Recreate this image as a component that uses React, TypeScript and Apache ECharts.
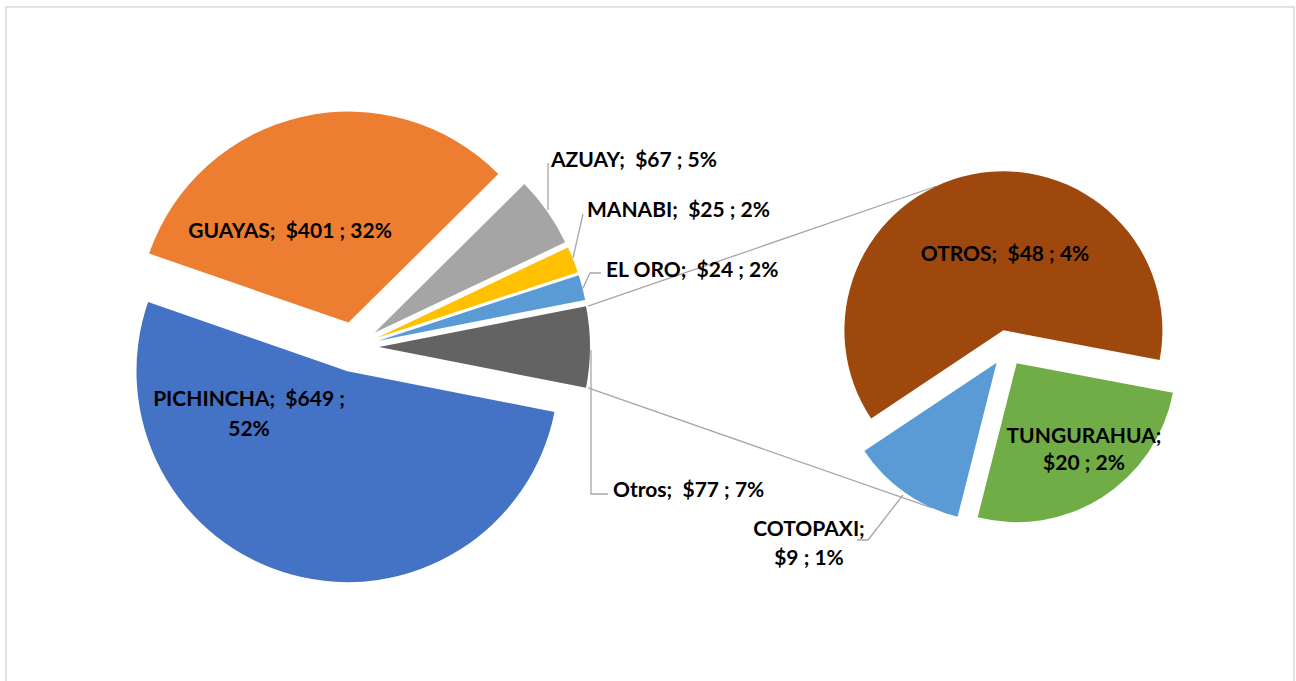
import { useEffect, useRef } from 'react';
import * as echarts from 'echarts';

const mainCategories = ['PICHINCHA', 'GUAYAS', 'AZUAY', 'MANABI', 'EL ORO', 'Otros'];
const mainValues = [649, 401, 67, 25, 24, 77];
const mainPercents = ['52%', '32%', '5%', '2%', '2%', '7%'];
const mainColors = ['#4472C4', '#ED7D31', '#A5A5A5', '#FFC000', '#5B9BD5', '#636363'];

const subCategories = ['TUNGURAHUA', 'COTOPAXI', 'OTROS'];
const subValues = [20, 9, 48];
const subPercents = ['2%', '1%', '4%'];
const subColors = ['#70AD47', '#5B9BD5', '#9E480E'];

const MAIN_CENTER = [354, 347];
const MAIN_R = 211;
const MAIN_OFFSET = 25;
const SUB_CENTER = [1007, 348];
const SUB_R = 159;
const SUB_OFFSET = 18;
const SUB_START = 10.7; // degrees below 3 o'clock

const FONT = 'Lato, "Open Sans", sans-serif';
const FONT_SIZE = 21;
const LINE_COLOR = '#a6a6a6';

const mainLabelLayout: any[] = [
  { x: 249, y: 412, align: 'center', lines: 2, lh: 30 },
  { x: 290, y: 229, align: 'center' },
  { x: 551, y: 158, align: 'left', line: [[548, 210], [548, 163]] },
  { x: 587, y: 208, align: 'left', line: [[573, 258], [583, 214]] },
  { x: 606, y: 268, align: 'left', line: [[583, 288], [590, 273], [601, 273]] },
  { x: 613, y: 488, align: 'left', line: [[591, 350], [591, 494], [608, 494]] },
];
const subLabelLayout: any[] = [
  { x: 1084, y: 448, align: 'center', lines: 2, lh: 27 },
  { x: 809, y: 542, align: 'center', lines: 2, lh: 29, line: [[903, 495], [868, 540], [857, 540]] },
  { x: 1005, y: 252, align: 'center' },
];

function labelText(name: string, value: number, pct: string, twoLines: boolean) {
  if (!twoLines) return `${name};  $${value} ; ${pct}`;
  if (name === 'PICHINCHA') return `${name};  $${value} ;\n${pct}`;
  return `${name};\n$${value} ; ${pct}`;
}

function pt(c: number[], r: number, deg: number) {
  const a = (deg * Math.PI) / 180;
  return [c[0] + r * Math.cos(a), c[1] + r * Math.sin(a)];
}

export default function App() {
  const ref = useRef<HTMLDivElement>(null);
  useEffect(() => {
    if (!ref.current) return;
    const chart = echarts.init(ref.current, undefined, { renderer: 'svg' });

    const mainTotal = mainValues.reduce((a, b) => a + b, 0);
    const otrosHalf = (mainValues[mainValues.length - 1] / mainTotal) * 180;
    const subTotal = subValues.reduce((a, b) => a + b, 0);

    // connector line endpoints computed from pie geometry
    const otrosCenter = [MAIN_CENTER[0] + MAIN_OFFSET, MAIN_CENTER[1]];
    const upStart = pt(otrosCenter, MAIN_R, -otrosHalf);
    const lowStart = pt(otrosCenter, MAIN_R, otrosHalf);
    const angs: number[] = [];
    let acc = SUB_START;
    subValues.forEach((v) => {
      angs.push(acc);
      acc += (v / subTotal) * 360;
    });
    const brownMid = (angs[2] + SUB_START + 360) / 2;
    const blueMid = angs[1] + ((subValues[1] / subTotal) * 360) / 2;
    const brownCenter = pt(SUB_CENTER, SUB_OFFSET, brownMid);
    const blueCenter = pt(SUB_CENTER, SUB_OFFSET, blueMid);
    const upEnd = pt(brownCenter, SUB_R, 245);
    const lowEnd = pt(blueCenter, SUB_R, 114);

    const sliceData = (cats: string[], vals: number[], colors: string[]) =>
      cats.map((name, i) => ({
        name,
        value: vals[i],
        selected: true,
        itemStyle: { color: colors[i] },
        select: { itemStyle: { color: colors[i] } },
      }));

    const labelData = (cats: string[], vals: number[], pcts: string[], layout: any[]) =>
      cats.map((name, i) => ({
        name,
        value: vals[i],
        itemStyle: { color: 'rgba(0,0,0,0)' },
        label: {
          show: true,
          position: 'outside',
          formatter: labelText(name, vals[i], pcts[i], layout[i].lines === 2),
          fontFamily: FONT,
          fontWeight: 'bold',
          fontSize: FONT_SIZE,
          color: '#000',
          lineHeight: layout[i].lh || 28,
        },
        labelLine: { show: !!layout[i].line, lineStyle: { color: LINE_COLOR, width: 1.3 } },
      }));

    const mkLayout = (layout: any[]) => (params: any) => {
      const l = layout[params.dataIndex];
      const o: any = { x: l.x, y: l.y, align: l.align, verticalAlign: 'middle' };
      if (l.line) o.labelLinePoints = l.line;
      return o;
    };

    const slicesSeries = (center: number[], r: number, start: number, offset: number, data: any[]) => ({
      type: 'pie',
      center,
      radius: [0, r],
      startAngle: start,
      clockwise: true,
      selectedMode: 'multiple',
      selectedOffset: offset,
      silent: true,
      emphasis: { disabled: true },
      label: { show: false },
      labelLine: { show: false },
      data,
    });

    const labelSeries = (center: number[], r: number, start: number, layout: any[], data: any[]) => ({
      type: 'pie',
      center,
      radius: [0, r],
      startAngle: start,
      clockwise: true,
      selectedMode: false,
      silent: true,
      avoidLabelOverlap: false,
      minShowLabelAngle: 0,
      emphasis: { disabled: true },
      labelLayout: mkLayout(layout),
      z: 5,
      data,
    });

    chart.setOption({
      animation: false,
      backgroundColor: '#fff',
      graphic: [
        {
          type: 'rect',
          shape: { x: 6, y: 7, width: 1288, height: 700 },
          style: { fill: 'none', stroke: '#d9d9d9', lineWidth: 1.5 },
          silent: true,
          z: 0,
        },
        {
          type: 'line',
          shape: { x1: upStart[0] + 2, y1: upStart[1], x2: upEnd[0], y2: upEnd[1] },
          style: { stroke: LINE_COLOR, lineWidth: 1.3 },
          silent: true,
          z: 0,
        },
        {
          type: 'line',
          shape: { x1: lowStart[0] + 2, y1: lowStart[1], x2: lowEnd[0], y2: lowEnd[1] },
          style: { stroke: LINE_COLOR, lineWidth: 1.3 },
          silent: true,
          z: 0,
        },
      ],
      series: [
        slicesSeries(MAIN_CENTER, MAIN_R, -otrosHalf, MAIN_OFFSET, sliceData(mainCategories, mainValues, mainColors)),
        slicesSeries(SUB_CENTER, SUB_R, -SUB_START, SUB_OFFSET, sliceData(subCategories, subValues, subColors)),
        labelSeries(MAIN_CENTER, MAIN_R, -otrosHalf, mainLabelLayout,
          labelData(mainCategories, mainValues, mainPercents, mainLabelLayout)),
        labelSeries(SUB_CENTER, SUB_R, -SUB_START, subLabelLayout,
          labelData(subCategories, subValues, subPercents, subLabelLayout)),
      ],
    });
    return () => chart.dispose();
  }, []);
  return (
    <div
      ref={ref}
      style={{ position: 'fixed', left: 0, top: 0, width: 1296, height: 681, background: '#fff' }}
    />
  );
}
